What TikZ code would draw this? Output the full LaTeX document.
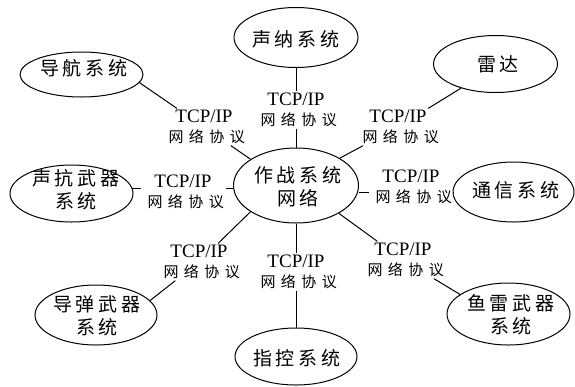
\documentclass[tikz,border=0pt]{standalone}
\usepackage{fontspec}
\setmainfont{Liberation Serif}
\newfontfamily\cjkA[LetterSpace=20]{Noto Sans CJK SC}
\newfontfamily\cjkB[LetterSpace=36]{Noto Sans CJK SC}
\usetikzlibrary{shapes.geometric}
\newcommand\lsa{\kern0.2em}
\newcommand\lsb{\kern0.36em}
\newcommand\tcp{{\rmfamily\fontsize{19}{20}\selectfont TCP/IP}}
\tikzset{
  sys/.style={draw, ellipse, line width=1pt, inner sep=0pt},
  big/.style={inner sep=0pt, align=center, font=\cjkA\fontsize{19}{23}\selectfont},
  proto/.style={inner sep=1.5pt, align=center, font=\cjkB\fontsize{15}{20}\selectfont},
  link/.style={line width=1pt}
}
\begin{document}
\begin{tikzpicture}[x=1pt,y=-1pt]
\useasboundingbox (0,0) rectangle (575,386);
% ellipses
\node[sys, minimum width=124pt, minimum height=60pt] (s) at (296,37.5) {};
\node[sys, minimum width=123pt, minimum height=45pt] (n) at (81.5,74.5) {};
\node[sys, minimum width=124pt, minimum height=57pt] (r) at (495.5,64) {};
\node[sys, minimum width=123pt, minimum height=57pt] (k) at (71.5,193.5) {};
\node[sys, minimum width=125pt, minimum height=75pt] (c) at (296,185.5) {};
\node[sys, minimum width=121pt, minimum height=60pt] (t) at (513.5,192) {};
\node[sys, minimum width=122pt, minimum height=60pt] (m) at (96,315) {};
\node[sys, minimum width=122pt, minimum height=57pt] (p) at (296,356.5) {};
\node[sys, minimum width=123pt, minimum height=62pt] (f) at (508.5,314) {};
% ellipse texts
\node[big] (st) at (294,39) {\lsa 声纳系统};
\node[big] (nt) at (82,68) {\lsa 导航系统};
\node[big] (rt) at (496,64) {\lsa 雷达};
\node[big] (kt) at (74,189.5) {\lsa 声抗武器\\\lsa 系统};
\node[big] (ct) at (296,187) {\lsa 作战系统\\\lsa 网络};
\node[big] (tt) at (514,190) {\lsa 通信系统};
\node[big] (mt) at (95,315.5) {\lsa 导弹武器\\\lsa 系统};
\node[big] (pt) at (295,358) {\lsa 指控系统};
\node[big] (ft) at (509,314.5) {\lsa 鱼雷武器\\\lsa 系统};
% protocol labels
\node[proto] (l1) at (204,127) {\tcp\\\lsb 网络协议};
\node[proto] (l2) at (296,110) {\tcp\\\lsb 网络协议};
\node[proto] (l3) at (398,127) {\tcp\\\lsb 网络协议};
\node[proto] (l4) at (183,192) {\tcp\\\lsb 网络协议};
\node[proto] (l5) at (411,187) {\tcp\\\lsb 网络协议};
\node[proto] (l6) at (199,262) {\tcp\\\lsb 网络协议};
\node[proto] (l7) at (296,272) {\tcp\\\lsb 网络协议};
\node[proto] (l8) at (403,260) {\tcp\\\lsb 网络协议};
% connectors
\draw[link] (n.-8) -- (l1) -- (c.150);
\draw[link] (s) -- (l2) -- (c);
\draw[link] (r.215) -- (l3) -- (c.32);
\draw[link] (k.5) -- (k.5 -| l4.west);
\draw[link] (l4.east |- k.5) -- (c.west |- k.5);
\draw[link] (c.east |- t.west) -- (t.west -| l5.west);
\draw[link] (l5.east |- t.west) -- (t.west);
\draw[link] (m.15) -- (l6) -- (c.210);
\draw[link] (c) -- (l7) -- (p);
\draw[link] (f.158) -- (l8) -- (c.-33);
\end{tikzpicture}
\end{document}
